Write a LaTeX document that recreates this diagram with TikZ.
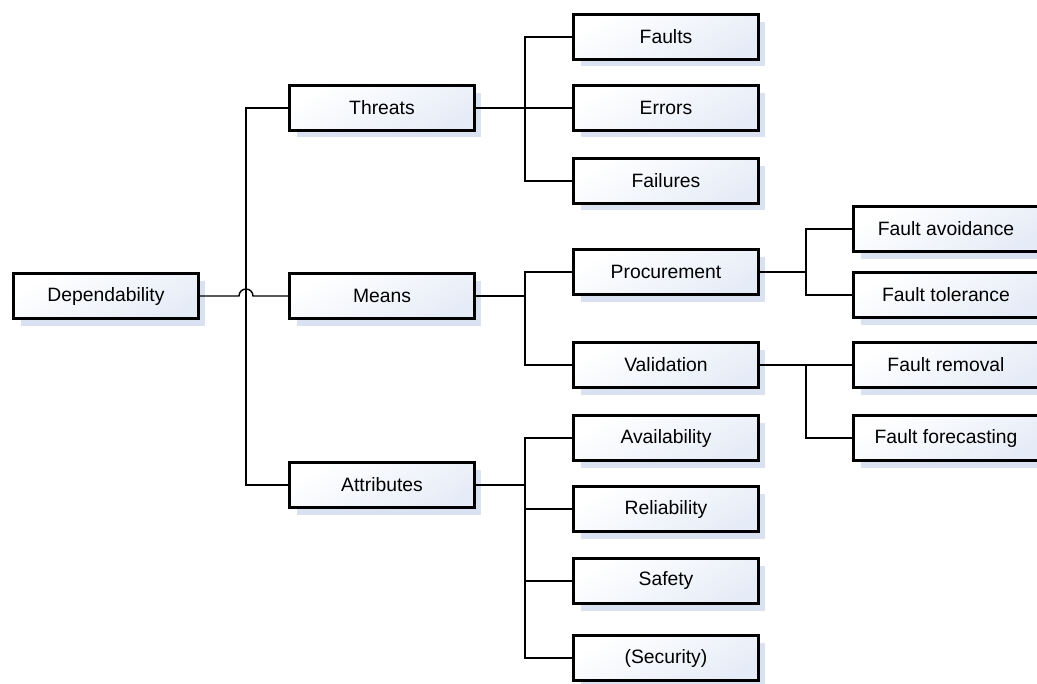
\documentclass[tikz,border=0pt]{standalone}
\usepackage{fontspec}
\setmainfont{Liberation Sans}
\usetikzlibrary{shadows}
\definecolor{boxblue}{HTML}{E6ECF7}
\definecolor{shadowblue}{HTML}{DAE2F1}
\tikzset{
  box/.style={draw=black, line width=1.8pt, minimum width=3.7cm, minimum height=0.9cm,
    inner sep=0pt, font=\fontsize{11}{13}\selectfont,
    top color=white, bottom color=boxblue, shading angle=30,
    general shadow={fill=shadowblue, shadow xshift=0.14cm, shadow yshift=-0.14cm}},
  link/.style={draw=black, line width=0.8pt}
}
\begin{document}
\begin{tikzpicture}[x=0.02cm,y=-0.02cm]
\clip (0,0) rectangle (1037,683);
\useasboundingbox (0,0) rectangle (1037,683);
% level 0
\node[box] (dep) at (106,296) {Dependability};
% level 1
\node[box] (threats) at (382,108) {Threats};
\node[box] (means) at (382,296) {Means};
\node[box] (attr) at (382,485) {Attributes};
% level 2
\node[box] (faults) at (666,37) {Faults};
\node[box] (errors) at (666,108) {Errors};
\node[box] (failures) at (666,181) {Failures};
\node[box] (proc) at (666,272) {Procurement};
\node[box] (valid) at (666,365) {Validation};
\node[box] (avail) at (666,438) {Availability};
\node[box] (reliab) at (666,509) {Reliability};
\node[box] (safety) at (666,581) {Safety};
\node[box] (secur) at (666,658) {(Security)};
% level 3
\node[box] (favoid) at (946,229) {Fault avoidance};
\node[box] (ftol) at (946,295) {Fault tolerance};
\node[box] (fremove) at (946,365) {Fault removal};
\node[box] (fforecast) at (946,438) {Fault forecasting};
% connectors from the root, hopping over the spine
\coordinate (hopL) at (239,296);
\draw[link] (dep.east) -- (hopL) arc[start angle=180, end angle=0, radius=0.14cm] -- (means.west);
\draw[link] (threats.west) -- ++(-42,0) coordinate (sj) |- (attr.west);
% threats
\draw[link] (threats.east) -- ++(49,0) coordinate (tj);
\draw[link] (tj) |- (faults.west);
\draw[link] (tj) -- (errors.west);
\draw[link] (tj) |- (failures.west);
% means
\draw[link] (means.east) -- ++(49,0) coordinate (mj);
\draw[link] (mj) |- (proc.west);
\draw[link] (mj) |- (valid.west);
\draw[link] (proc.east) -- ++(46,0) coordinate (pj);
\draw[link] (pj) |- (favoid.west);
\draw[link] (pj) |- (ftol.west);
\draw[link] (valid.east) -- ++(46,0) coordinate (vj);
\draw[link] (vj) -- (fremove.west);
\draw[link] (vj) |- (fforecast.west);
% attributes
\draw[link] (attr.east) -- ++(49,0) coordinate (aj);
\draw[link] (aj) |- (avail.west);
\draw[link] (aj) |- (reliab.west);
\draw[link] (aj) |- (safety.west);
\draw[link] (aj) |- (secur.west);
\end{tikzpicture}
\end{document}
